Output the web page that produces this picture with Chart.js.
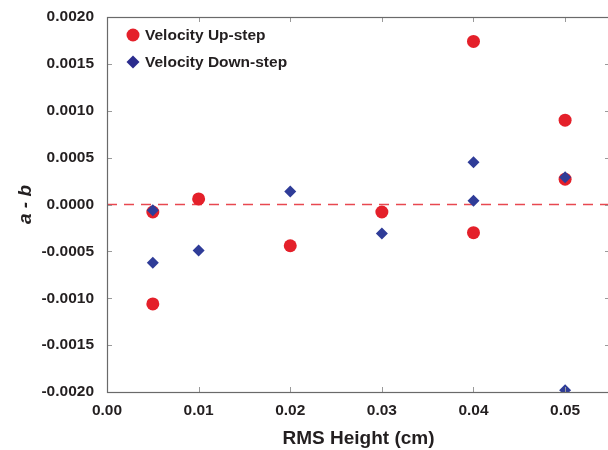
<!DOCTYPE html>
<html>
<head>
<meta charset="utf-8">
<script src="https://cdn.jsdelivr.net/npm/chart.js@4/dist/chart.umd.min.js"></script>
<style>
  html, body { margin: 0; padding: 0; background: #ffffff; }
  #wrap { width: 608px; height: 450px; overflow: hidden; position: relative; }
  canvas { display: block; }
</style>
</head>
<body>
<div id="wrap"><canvas id="c" width="612" height="450"></canvas></div>
<script>
// RMS height of each surface (cm)
const upX   = [0.005, 0.005, 0.01, 0.02, 0.03, 0.04, 0.04, 0.05, 0.05];
// a - b for the velocity up-step tests
const upY   = [-0.00008, -0.00106, 0.00006, -0.00044, -0.00008, 0.00174, -0.00030, 0.00090, 0.00027];
const downX = [0.005, 0.005, 0.01, 0.02, 0.03, 0.04, 0.04, 0.05, 0.05];
// a - b for the velocity down-step tests
const downY = [-0.00006, -0.00062, -0.00049, 0.00014, -0.00031, 0.00045, 0.00004, 0.00029, -0.00198];

const seriesNames = ['Velocity Up-step', 'Velocity Down-step'];
const xTitle = 'RMS Height (cm)';
const yTitle = 'a - b';
const xRange = [0, 0.0549];
const yRange = [-0.0020, 0.0020];

const RED = '#e4202a';
const BLUE = '#2f3c98';
const INK = '#231f20';
const FONT = "'Liberation Sans', Arial, Helvetica, sans-serif";

const pts = (xs, ys) => xs.map((x, i) => ({ x: x, y: ys[i] }));

// Frame around the plot area with inward-pointing tick marks on all four sides
const framePlugin = {
  id: 'frame',
  afterDatasetsDraw(chart) {
    const { ctx, chartArea: a, scales: { x, y } } = chart;
    ctx.save();
    ctx.strokeStyle = '#9a9a9a';
    ctx.lineWidth = 1;
    const len = 5;
    x.ticks.forEach(t => {
      const px = Math.round(x.getPixelForValue(t.value)) + 0.5;
      if (px <= a.left + 1 || px >= a.right - 1) return;
      ctx.beginPath();
      ctx.moveTo(px, a.bottom); ctx.lineTo(px, a.bottom - len);
      ctx.moveTo(px, a.top); ctx.lineTo(px, a.top + len);
      ctx.stroke();
    });
    y.ticks.forEach(t => {
      const py = Math.round(y.getPixelForValue(t.value)) + 0.5;
      if (py <= a.top + 1 || py >= a.bottom - 1) return;
      ctx.beginPath();
      ctx.moveTo(a.left, py); ctx.lineTo(a.left + len, py);
      ctx.moveTo(a.right, py); ctx.lineTo(a.right - len, py);
      ctx.stroke();
    });
    ctx.strokeStyle = '#6a6a6a';
    ctx.lineWidth = 1.2;
    ctx.strokeRect(Math.round(a.left) + 0.5, Math.round(a.top) + 0.5,
                   Math.round(a.right - a.left), Math.round(a.bottom - a.top));
    ctx.restore();
  }
};

// Legend drawn inside the upper-left corner of the plot area
const insetLegend = {
  id: 'insetLegend',
  afterDraw(chart) {
    const { ctx, chartArea: a } = chart;
    const rows = [
      { ds: chart.data.datasets[0], color: RED, style: 'circle', r: 6.5 },
      { ds: chart.data.datasets[1], color: '#2b2c8e', style: 'rectRot', r: 6.5 }
    ];
    ctx.save();
    ctx.font = 'bold 15.5px ' + FONT;
    ctx.textBaseline = 'middle';
    rows.forEach((row, i) => {
      const cx = a.left + 26;
      const cy = a.top + 18 + i * 27;
      ctx.fillStyle = row.color;
      ctx.strokeStyle = row.color;
      ctx.lineWidth = 0;
      Chart.helpers.drawPoint(ctx, { pointStyle: row.style, radius: row.r, rotation: 0, borderWidth: 0 }, cx, cy);
      ctx.fillStyle = INK;
      ctx.fillText(row.ds.label, a.left + 38, cy + 0.5);
    });
    ctx.restore();
  }
};

new Chart(document.getElementById('c'), {
  type: 'scatter',
  data: {
    datasets: [
      {
        label: seriesNames[0],
        data: pts(upX, upY),
        pointStyle: 'circle',
        pointRadius: 6.5,
        pointHoverRadius: 6.5,
        backgroundColor: RED,
        borderColor: RED,
        borderWidth: 0,
        order: 2
      },
      {
        label: seriesNames[1],
        data: pts(downX, downY),
        pointStyle: 'rectRot',
        pointRadius: 6,
        pointHoverRadius: 6,
        backgroundColor: BLUE,
        borderColor: BLUE,
        borderWidth: 0,
        order: 1
      },
      {
        type: 'line',
        label: 'zero',
        data: [{ x: xRange[0], y: 0 }, { x: xRange[1], y: 0 }],
        borderColor: '#e84850',
        borderWidth: 1.3,
        borderDash: [10, 7],
        pointRadius: 0,
        fill: false,
        order: 3
      }
    ]
  },
  options: {
    responsive: false,
    animation: false,
    events: [],
    layout: { autoPadding: false, padding: { top: 17, right: 2, left: 0, bottom: 0 } },
    plugins: {
      legend: { display: false },
      tooltip: { enabled: false }
    },
    scales: {
      x: {
        type: 'linear',
        min: xRange[0],
        max: xRange[1],
        grid: { display: false },
        border: { display: false },
        ticks: {
          stepSize: 0.01,
          includeBounds: false,
          padding: 1,
          color: INK,
          font: { family: FONT, size: 15.5, weight: 'bold' },
          callback: v => v.toFixed(2)
        },
        title: {
          display: true,
          text: xTitle,
          color: INK,
          font: { family: FONT, size: 19, weight: 'bold', lineHeight: 1 },
          padding: { top: 0, bottom: 1.5 }
        },
        afterFit: s => { s.height = 58; s.paddingLeft = 0; s.paddingRight = 0; }
      },
      y: {
        type: 'linear',
        min: yRange[0],
        max: yRange[1],
        grid: { display: false },
        border: { display: false },
        ticks: {
          stepSize: 0.0005,
          padding: 5,
          color: INK,
          font: { family: FONT, size: 15.5, weight: 'bold' },
          callback: v => v.toFixed(4)
        },
        title: {
          display: true,
          text: yTitle,
          color: INK,
          font: { family: FONT, size: 19, weight: 'bold', style: 'italic', lineHeight: 1 },
          padding: { top: 16, bottom: 0 }
        },
        afterFit: s => { s.width = 107; s.paddingTop = 0; s.paddingBottom = 0; }
      }
    }
  },
  plugins: [framePlugin, insetLegend]
});
</script>
</body>
</html>
